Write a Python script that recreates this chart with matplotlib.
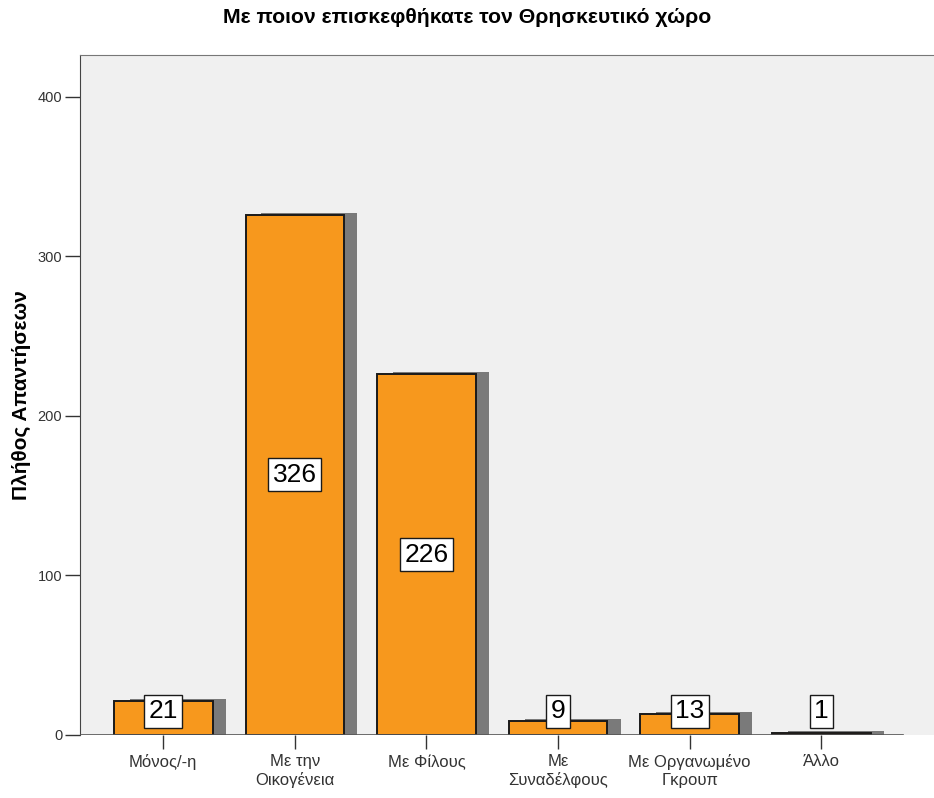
import numpy as np
import matplotlib.pyplot as plt

plt.rcParams['font.family'] = ['Liberation Sans', 'DejaVu Sans']

categories = ['Μόνος/-η', 'Με την\nΟικογένεια', 'Με Φίλους', 'Με\nΣυναδέλφους',
              'Με Οργανωμένο\nΓκρουπ', 'Άλλο']
counts = [21, 326, 226, 9, 13, 1]
yticks = [0, 100, 200, 300, 400]

x = np.arange(len(categories))
width = 0.75

fig = plt.figure(figsize=(9.34, 7.98), dpi=100)
ax = fig.add_axes([0.086, 0.079, 0.916, 0.852])
ax.set_facecolor('#f0f0f0')

# shadow bars (slightly offset right and up)
ax.bar(x + 0.11, [c + 1.3 for c in counts], width=width - 0.02,
       color='#7a7a7a', edgecolor='none', zorder=1)
# main bars
ax.bar(x, counts, width=width, color='#f7981d', edgecolor='#1a1a1a',
       linewidth=1.4, zorder=2)

# value labels
for xi, c in zip(x, counts):
    ypos = max(c / 2, 15)
    ax.text(xi, ypos, str(c), ha='center', va='center', fontsize=19,
            zorder=4,
            bbox=dict(boxstyle='square,pad=0.17', facecolor='white',
                      edgecolor='#1a1a1a', linewidth=1))

ax.set_xlim(-0.63, 5.87)
ax.set_ylim(0, 426)
ax.axhline(0, xmin=0, xmax=(5.62 + 0.63) / 6.5, color='#555555', lw=1.2, zorder=3)

ax.set_yticks(yticks)
ax.set_xticks(x)
ax.set_xticklabels(categories, fontsize=12, color='#333333')
ax.tick_params(axis='y', labelsize=10.5, colors='#333333', length=11, width=1, pad=2)
ax.tick_params(axis='x', length=10, width=1, colors='#333333', pad=4)

for s in ['bottom', 'right']:
    ax.spines[s].set_visible(False)
ax.spines['left'].set_color('#444444')
ax.spines['top'].set_color('#777777')

ax.set_ylabel('Πλήθος Απαντήσεων', fontsize=15, fontweight='bold', labelpad=5)
fig.suptitle('Με ποιον επισκεφθήκατε τον Θρησκευτικό χώρο', fontsize=15.3,
             fontweight='bold', y=0.99)

fig.savefig('out.png', dpi=100)
